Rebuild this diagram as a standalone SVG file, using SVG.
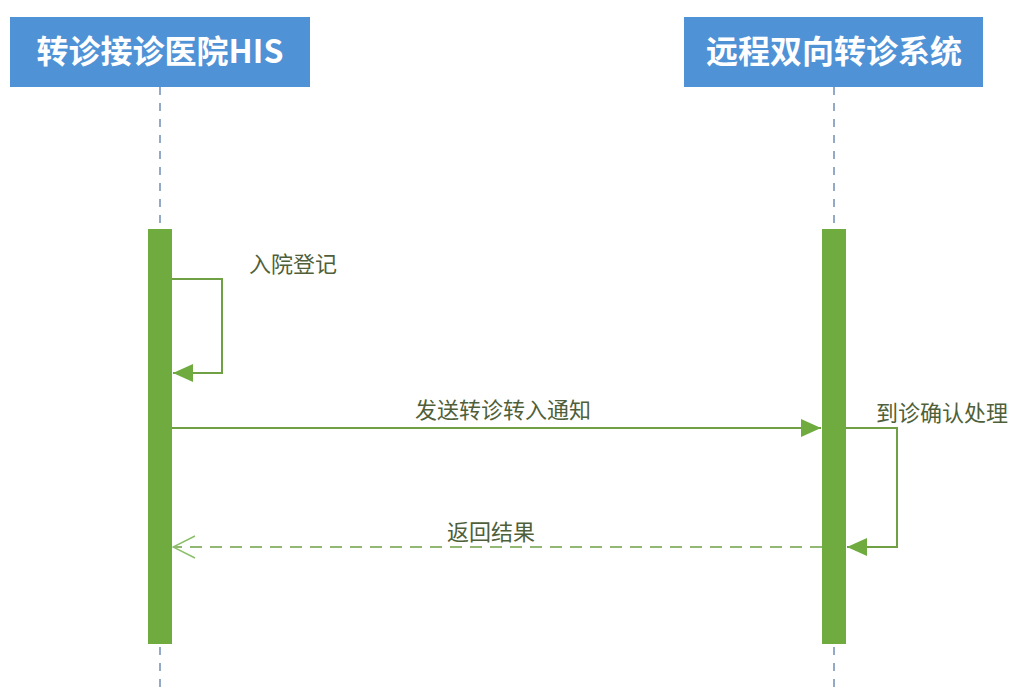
<svg xmlns="http://www.w3.org/2000/svg" width="1013" height="689" viewBox="0 0 1013 689">
<style>
.hdr{fill:#4f92d6;}
.htxt{font-family:"Noto Sans CJK SC","Noto Sans",sans-serif;font-size:32px;font-weight:bold;fill:#ffffff;text-anchor:middle;}
.life{stroke:#6f8fb5;stroke-width:1.5;stroke-dasharray:8,8;fill:none;}
.bar{fill:#6fab3f;}
.msg{stroke:#6fa044;stroke-width:2;fill:none;}
.dash{stroke:#6fa044;stroke-width:1.5;fill:none;stroke-dasharray:12,8;}
.lbl{font-family:"Noto Sans CJK SC","Noto Sans",sans-serif;font-size:22px;fill:#4f5f3a;}
</style>
<defs>
<marker id="fill" viewBox="0 0 20 20" refX="20" refY="10" markerWidth="20" markerHeight="20" markerUnits="userSpaceOnUse" orient="auto">
<path d="M0,1 L20,10 L0,19 z" fill="#6fab3f"/>
</marker>
<marker id="open" viewBox="0 0 24 24" refX="23" refY="12" markerWidth="24" markerHeight="24" markerUnits="userSpaceOnUse" orient="auto">
<path d="M1,1 L23,12 L1,23" fill="none" stroke="#8cbf6a" stroke-width="1.5"/>
</marker>
</defs>
<g id="his">
<rect class="hdr" x="10" y="17" width="300" height="70"/>
<text class="htxt" x="160" y="63">转诊接诊医院HIS</text>
<line class="life" x1="160" y1="87" x2="160" y2="689"/>
<rect class="bar" x="148" y="229" width="24" height="415"/>
</g>
<g id="sys">
<rect class="hdr" x="684" y="17" width="299" height="70"/>
<text class="htxt" x="834" y="63">远程双向转诊系统</text>
<line class="life" x1="834" y1="87" x2="834" y2="689"/>
<rect class="bar" x="822" y="229" width="24" height="415"/>
</g>
<g id="connectors">
<path class="msg" d="M172,279 H222 V373 H173" marker-end="url(#fill)"/>
<text class="lbl" x="249" y="272">入院登记</text>
<path class="msg" d="M172,428 H821" marker-end="url(#fill)"/>
<text class="lbl" x="415" y="418">发送转诊转入通知</text>
<path class="msg" d="M846,428 H897 V547 H847" marker-end="url(#fill)"/>
<text class="lbl" x="876" y="421">到诊确认处理</text>
<path class="dash" d="M822,547 H173" marker-end="url(#open)"/>
<text class="lbl" x="447" y="540">返回结果</text>
</g>
</svg>
